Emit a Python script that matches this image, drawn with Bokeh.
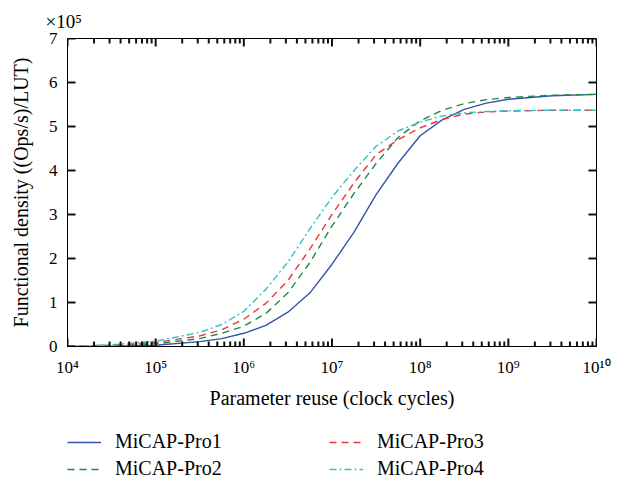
from bokeh.plotting import figure
from bokeh.layouts import column
from bokeh.models import (Range1d, FixedTicker, Legend, LegendItem, Title)
from bokeh.embed import file_html
from bokeh.resources import INLINE

# ---- data ----
log_reuse = [4, 4.5, 5, 5.5, 5.75, 6, 6.25, 6.5, 6.75, 7, 7.25, 7.5, 7.75, 8, 8.25, 8.5, 8.75, 9, 9.5, 10]
pro1 = [0.0, 0.005, 0.03, 0.11, 0.18, 0.30, 0.48, 0.78, 1.22, 1.87, 2.60, 3.45, 4.17, 4.79, 5.15, 5.39, 5.53, 5.62, 5.70, 5.73]
pro2 = [0.0, 0.02, 0.06, 0.18, 0.30, 0.46, 0.75, 1.22, 1.91, 2.74, 3.48, 4.16, 4.75, 5.13, 5.37, 5.52, 5.61, 5.66, 5.71, 5.73]
pro3 = [0.0, 0.03, 0.09, 0.24, 0.38, 0.62, 0.98, 1.50, 2.22, 3.00, 3.72, 4.36, 4.70, 4.97, 5.16, 5.28, 5.33, 5.35, 5.37, 5.37]
pro4 = [0.0, 0.04, 0.12, 0.32, 0.50, 0.80, 1.30, 1.92, 2.68, 3.39, 4.00, 4.55, 4.90, 5.10, 5.24, 5.31, 5.34, 5.36, 5.37, 5.37]
series_names = ["MiCAP-Pro1", "MiCAP-Pro2", "MiCAP-Pro3", "MiCAP-Pro4"]

x_decades = [4, 5, 6, 7, 8, 9, 10]
x_tick_labels = ["10⁴", "10⁵", "10⁶", "10⁷", "10⁸", "10⁹", "10¹⁰"]
minor_mult = [2, 3, 4, 5, 6, 7, 8, 9]
y_ticks = [0, 1, 2, 3, 4, 5, 6, 7]
y_multiplier = "×10⁵"

reuse = [10.0 ** e for e in log_reuse]
x_ticks = [10.0 ** d for d in x_decades]
x_minor = [m * 10.0 ** d for d in x_decades[:-1] for m in minor_mult]
x_lo, x_hi = x_ticks[0], x_ticks[-1]
y_lo, y_hi = y_ticks[0], y_ticks[-1]

FONT = "Liberation Serif"
FRAME_W, FRAME_H = 529, 308
MAJOR_LEN, MINOR_LEN = 8, 5

p = figure(width=623, height=420, x_axis_type="log",
           x_range=Range1d(x_lo, x_hi), y_range=Range1d(y_lo, y_hi),
           output_backend="svg", toolbar_location=None,
           min_border_left=67, min_border_right=27, min_border_top=38, min_border_bottom=74)
p.grid.visible = False
p.outline_line_color = "black"
p.outline_line_width = 1
p.background_fill_color = "white"
p.border_fill_color = "white"

styles = [
    dict(color="#3354a8", line_dash="solid"),
    dict(color="#23874a", line_dash="7 5"),
    dict(color="#ec3438", line_dash="7 5"),
    dict(color="#36c0c4", line_dash="7 3 2 3"),
]
for ys, st in zip([pro1, pro2, pro3, pro4], styles):
    p.line(reuse, ys, line_color=st["color"], line_dash=st["line_dash"], line_width=1.4)

# inward tick marks as segments; pixel lengths converted through the scales
def dy(px):
    return px * (y_hi - y_lo) / FRAME_H

def xfac(px):
    return 10 ** (px * (x_decades[-1] - x_decades[0]) / FRAME_W)

tick_kw = dict(line_color="#111111", line_width=2)
for xs, ln in ((x_ticks, MAJOR_LEN), (x_minor, MINOR_LEN)):
    n = len(xs)
    p.segment(xs, [y_lo] * n, xs, [y_lo + dy(ln)] * n, **tick_kw)
    p.segment(xs, [y_hi] * n, xs, [y_hi - dy(ln)] * n, **tick_kw)
ny = len(y_ticks)
p.segment([x_lo] * ny, y_ticks, [x_lo * xfac(MAJOR_LEN)] * ny, y_ticks, **tick_kw)
p.segment([x_hi] * ny, y_ticks, [x_hi / xfac(MAJOR_LEN)] * ny, y_ticks, **tick_kw)

def style_axis(ax):
    ax.axis_line_color = "black"
    ax.major_tick_line_color = None
    ax.minor_tick_line_color = None
    ax.major_tick_in = 0
    ax.major_tick_out = 0
    ax.minor_tick_in = 0
    ax.minor_tick_out = 0
    ax.major_label_text_font = FONT
    ax.major_label_text_font_size = "17px"
    ax.major_label_text_color = "black"
    ax.axis_label_text_font = FONT
    ax.axis_label_text_font_size = "20px"
    ax.axis_label_text_font_style = "normal"
    ax.axis_label_text_color = "black"

xa = p.xaxis[0]
style_axis(xa)
xa.ticker = FixedTicker(ticks=x_ticks, minor_ticks=x_minor)
xa.major_label_overrides = dict(zip(x_ticks, x_tick_labels))
xa.major_label_standoff = 11
xa.axis_label = "Parameter reuse (clock cycles)"
xa.axis_label_standoff = 7

ya = p.yaxis[0]
style_axis(ya)
ya.ticker = FixedTicker(ticks=y_ticks)
ya.major_label_standoff = 10
ya.axis_label = "Functional density ((Ops/s)/LUT)"
ya.axis_label_standoff = 14

p.add_layout(Title(text=y_multiplier, align="left", offset=-22, standoff=14,
                   text_font=FONT, text_font_size="19px", text_font_style="normal",
                   text_color="black"), "above")

# ---- legend strip below the chart ----
leg = figure(width=623, height=59, output_backend="svg", toolbar_location=None,
             x_range=Range1d(0, 1), y_range=Range1d(100, 101),
             x_axis_location=None, y_axis_location=None, min_border=0, frame_align=False)
leg.grid.visible = False
leg.outline_line_color = None
leg_renderers = [leg.line(reuse, ys, line_color=st["color"], line_dash=st["line_dash"], line_width=1.4)
                 for ys, st in zip([pro1, pro2, pro3, pro4], styles)]
legend = Legend(
    items=[LegendItem(label=n, renderers=[r]) for n, r in zip(series_names, leg_renderers)],
    ncols=2, location=(67, -1), padding=0, margin=0, spacing=4,
    glyph_width=34, glyph_height=20, label_height=20, label_width=210, label_standoff=14,
    label_text_font=FONT, label_text_font_size="20px", label_text_color="black",
    border_line_color=None, background_fill_alpha=0,
)
leg.add_layout(legend, "center")

open("out.html", "w").write(file_html(column(p, leg, spacing=0), INLINE))
